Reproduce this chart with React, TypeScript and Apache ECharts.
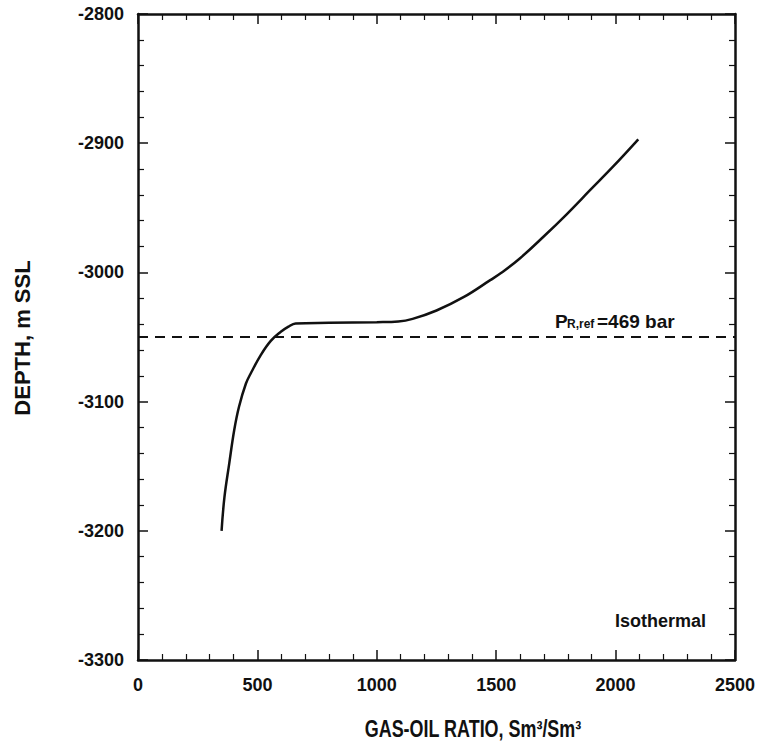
import React, { useEffect, useRef } from "react";
import * as echarts from "echarts";

const gor = [350, 362, 382, 403, 423, 452, 474, 514, 556, 598, 630, 660, 800, 1000, 1090, 1150, 1250, 1365, 1475, 1520, 1600, 1700, 1795, 1895, 1990, 2095];
const depth = [-3200, -3174, -3148, -3122, -3104, -3086, -3077.5, -3064, -3053, -3046, -3042, -3039.5, -3039, -3038.5, -3038, -3036, -3029.5, -3019, -3006, -3000.5, -2989, -2972, -2955, -2936, -2918, -2897];
const refDepth = -3050;
const refRange = [0, 2500];
const xTicks = { min: 0, max: 2500, interval: 500 };
const yTicks = { min: -3300, max: -2800, interval: 100 };

const FONT = "'Liberation Sans', Arial, Helvetica, sans-serif";
const INK = "#111";

export default function App() {
  const ref = useRef<HTMLDivElement>(null);
  useEffect(() => {
    if (!ref.current) return;
    const chart = echarts.init(ref.current, null, { renderer: "svg" });
    const axisCommon = {
      type: "value",
      axisLine: { show: true, onZero: false, lineStyle: { color: INK, width: 2.5 } },
      axisTick: { show: true, inside: true, length: 10, lineStyle: { color: INK, width: 1.5 } },
      minorTick: { show: true, splitNumber: 5, length: 6, lineStyle: { color: INK, width: 1.2 } },
      splitLine: { show: false },
      minorSplitLine: { show: false },
    };
    const labelStyle = {
      color: INK,
      fontSize: 18,
      fontWeight: "bold",
      fontFamily: FONT,
      formatter: (v: number) => String(v),
    };
    const option = {
      animation: false,
      backgroundColor: "#fff",
      grid: { left: 138, right: 35, top: 14, bottom: 87, containLabel: false },
      xAxis: [
        { ...axisCommon, ...xTicks, position: "bottom", axisLabel: { ...labelStyle, margin: 16 } },
        { ...axisCommon, ...xTicks, position: "top", axisLabel: { show: false } },
      ],
      yAxis: [
        { ...axisCommon, ...yTicks, position: "left", axisLabel: { ...labelStyle, margin: 14 } },
        { ...axisCommon, ...yTicks, position: "right", axisLabel: { show: false } },
      ],
      series: [
        {
          type: "line",
          xAxisIndex: 0,
          yAxisIndex: 0,
          data: gor.map((g, i) => [g, depth[i]]),
          showSymbol: false,
          smooth: 0.4,
          lineStyle: { color: INK, width: 2.5 },
        },
        {
          type: "line",
          xAxisIndex: 0,
          yAxisIndex: 0,
          data: refRange.map((g) => [g, refDepth]),
          showSymbol: false,
          lineStyle: { color: INK, width: 1.8, type: [10, 7] },
        },
      ],
      graphic: [
        {
          type: "text",
          x: 473,
          y: 729,
          scaleX: 0.78,
          style: { text: "GAS-OIL RATIO, Sm³/Sm³", fill: INK, fontSize: 23, fontWeight: "bold", fontFamily: FONT, align: "center", verticalAlign: "middle" },
        },
        {
          type: "text",
          x: 22,
          y: 338,
          rotation: Math.PI / 2,
          style: { text: "DEPTH, m SSL", fill: INK, fontSize: 22, fontWeight: "bold", fontFamily: FONT, align: "center", verticalAlign: "middle" },
        },
        {
          type: "text",
          x: 706,
          y: 621,
          style: { text: "Isothermal", fill: INK, fontSize: 18, fontWeight: "bold", fontFamily: FONT, align: "right", verticalAlign: "middle" },
        },
        {
          type: "text",
          x: 555,
          y: 321,
          style: { text: "P", fill: INK, fontSize: 19, fontWeight: "bold", fontFamily: FONT, align: "left", verticalAlign: "middle" },
        },
        {
          type: "text",
          x: 567,
          y: 324,
          style: { text: "R,ref", fill: INK, fontSize: 12, fontWeight: "bold", fontFamily: FONT, align: "left", verticalAlign: "middle" },
        },
        {
          type: "text",
          x: 597,
          y: 321,
          style: { text: "=469 bar", fill: INK, fontSize: 19, fontWeight: "bold", fontFamily: FONT, align: "left", verticalAlign: "middle" },
        },
      ],
    };
    chart.setOption(option as any);
    return () => chart.dispose();
  }, []);
  return <div ref={ref} style={{ position: "absolute", left: 0, top: 0, width: 770, height: 747 }} />;
}
